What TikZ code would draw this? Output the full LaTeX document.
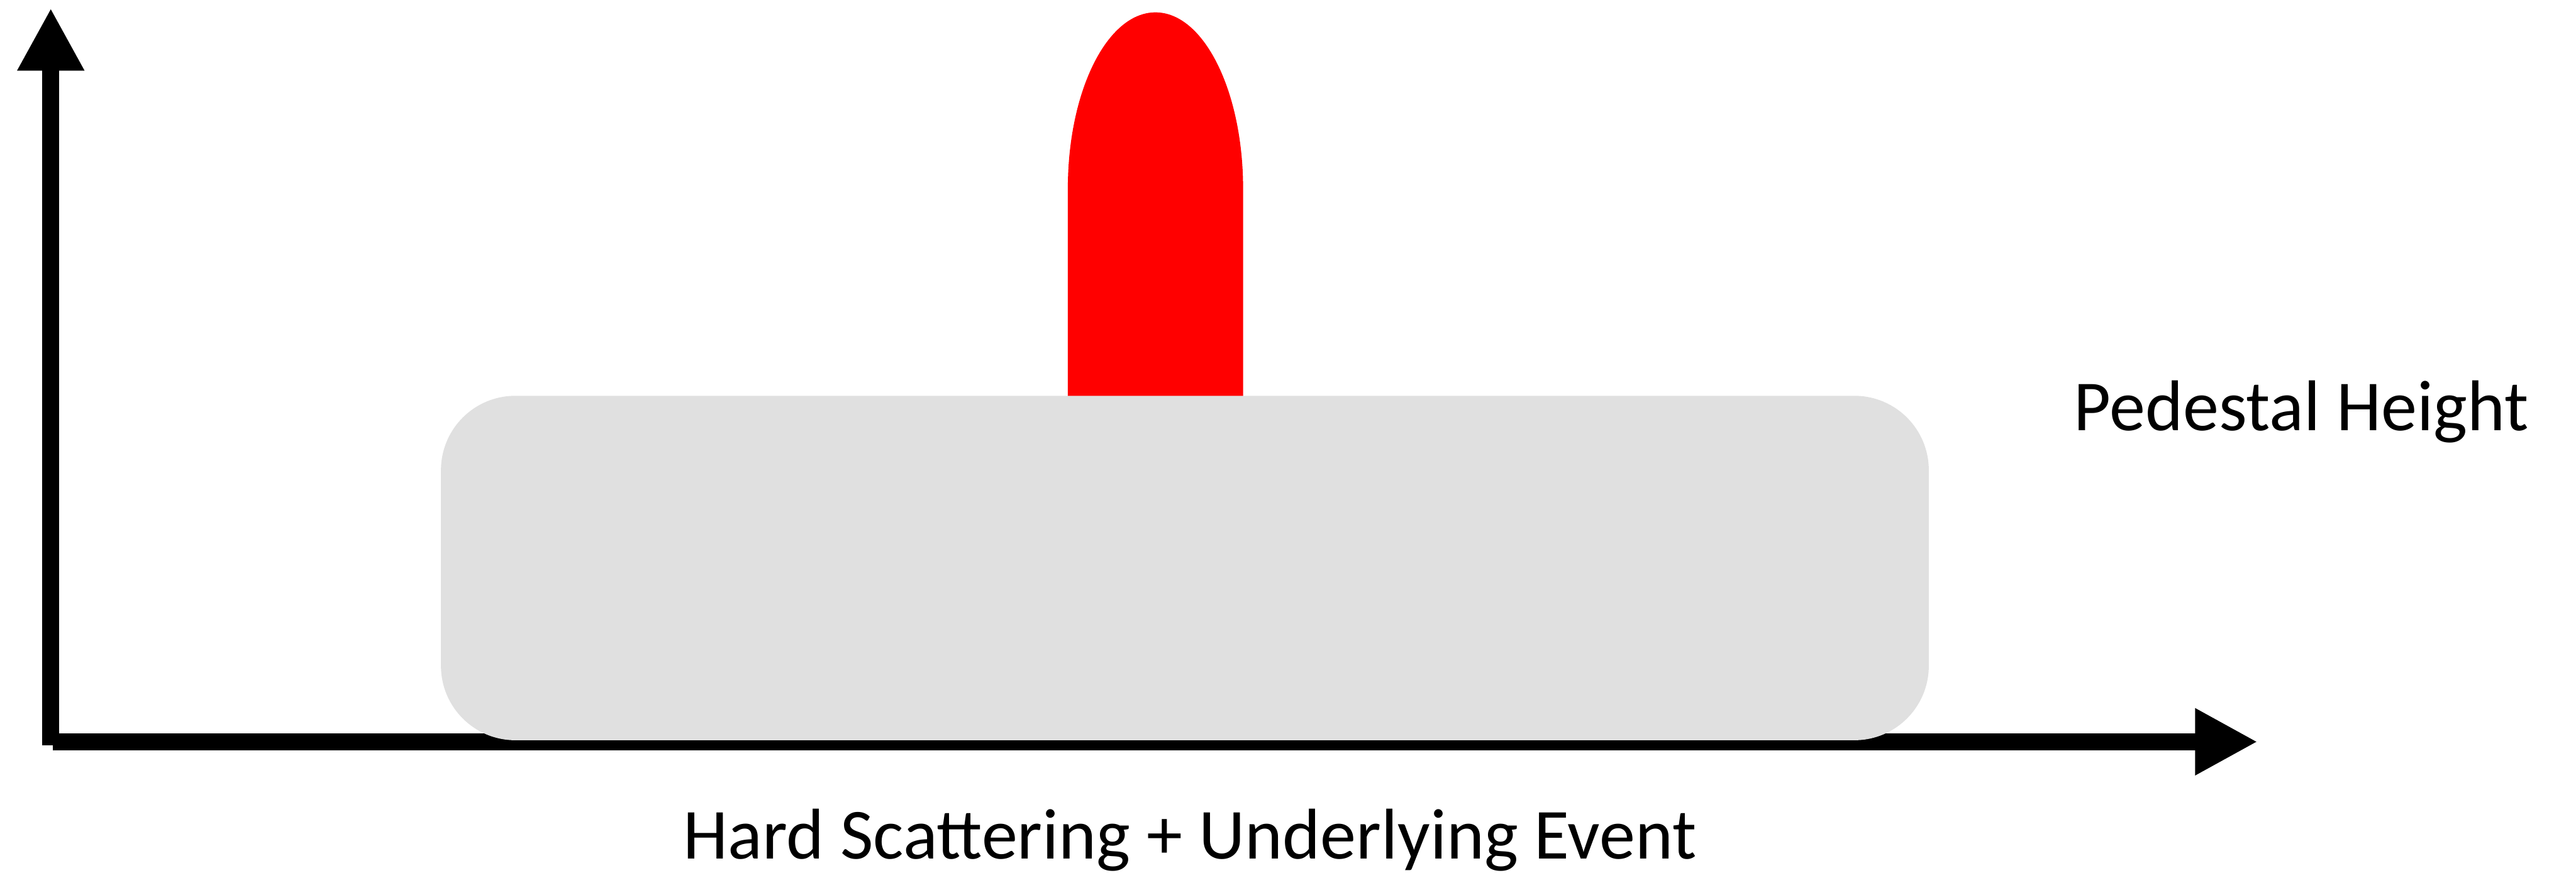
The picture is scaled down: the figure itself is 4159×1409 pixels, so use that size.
\documentclass[tikz,border=0pt]{standalone}
\usepackage{fontspec}
\setmainfont{Carlito}
\usepackage{tikz}
\usetikzlibrary{arrows.meta, positioning, shapes}

\definecolor{pedgray}{HTML}{E0E0E0}
\tikzset{
  axisline/.style={line width=1.35mm, -{Triangle[length=5.05mm, width=5.05mm]}},
  pedbox/.style={fill=pedgray, draw=none, rounded corners=6mm, inner sep=0pt,
    minimum width=120.1mm, minimum height=27.8mm},
  txt/.style={inner sep=0pt, font=\fontsize{16.5}{20}\selectfont}
}

\begin{document}
\begin{tikzpicture}[x=0.05mm, y=-0.05mm]
\useasboundingbox (0,0) rectangle (4159,1409);
% axes
\coordinate (yfoot) at (82,1203);
\coordinate (ytip) at (82,13);
\coordinate (xfoot) at (85,1197.5);
\coordinate (xtip) at (3645,1197.5);
\draw[axisline] (yfoot) -- (ytip);
\draw[axisline] (xfoot) -- (xtip);
% hard scattering peak
\fill[red] (1724,650) -- (1724,305)
  arc[start angle=180, end angle=0, x radius=7.075mm, y radius=14.25mm]
  -- (2007,650) -- cycle;
% pedestal
\node[pedbox] (pedestal) at (1913,917) {};
% labels
\node[txt, anchor=base west] (pedlabel) at (3347,695) {Pedestal Height};
\node[txt, anchor=base] (xlabel) at (1921,1387) {Hard Scattering + Underlying Event};
\end{tikzpicture}
\end{document}
